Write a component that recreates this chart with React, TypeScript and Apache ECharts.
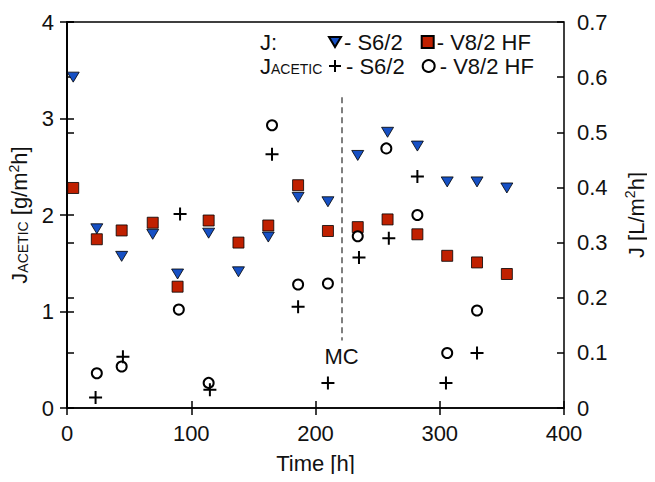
import React, { useEffect, useRef } from "react";
import * as echarts from "echarts";

// ---- data ----
const timeJ = [5, 24, 44, 69, 89, 114, 138, 162, 186, 210, 234, 258, 282, 306, 330, 354];
const jS62 = [0.6, 0.325, 0.275, 0.315, 0.243, 0.317, 0.247, 0.31, 0.382, 0.374, 0.458, 0.5, 0.475, 0.41, 0.41, 0.399];
const jV82 = [0.399, 0.306, 0.322, 0.336, 0.22, 0.34, 0.3, 0.331, 0.404, 0.321, 0.328, 0.342, 0.315, 0.276, 0.264, 0.243];

const timeAcS62 = [23, 45, 91, 115, 165, 186, 210, 235, 259, 282, 305, 330];
const acS62 = [0.11, 0.53, 2.01, 0.19, 2.63, 1.05, 0.26, 1.56, 1.76, 2.4, 0.26, 0.57];

const timeAcV82 = [24, 44, 90, 114, 165, 186, 210, 234, 257, 282, 306, 330];
const acV82 = [0.36, 0.43, 1.02, 0.26, 2.93, 1.28, 1.29, 1.78, 2.69, 2.0, 0.57, 1.01];

const mcTime = 221;
const mcLineTop = 3.22;
const mcLineBottom = 0.7;
const mcLabelY = 0.53;

const xTicks = { min: 0, max: 400, interval: 100 };
const leftTicks = { min: 0, max: 4, interval: 1 };
const rightTicks = { min: 0, max: 0.7, interval: 0.1 };

const seriesNames = ["J S6/2", "J V8/2 HF", "JACETIC S6/2", "JACETIC V8/2 HF"];
const legendLabels: Record<string, string> = {
  "J S6/2": "- S6/2",
  "J V8/2 HF": "- V8/2 HF",
  "JACETIC S6/2": "- S6/2",
  "JACETIC V8/2 HF": "- V8/2 HF",
};

const zip = (xs: number[], ys: number[]) => xs.map((x, i) => [x, ys[i]]);

const FONT = "Liberation Sans, Arial, Helvetica, sans-serif";
const BLUE = "#1650c4";
const RED = "#c02000";
const TRI = "path://M0,0 L12,0 L6,10 Z";
const PLUS = "path://M0,6 L12,6 M6,0 L6,12";

export default function App() {
  const ref = useRef<HTMLDivElement>(null);
  useEffect(() => {
    if (!ref.current) return;
    const chart = echarts.init(ref.current, undefined, { renderer: "svg" });
    const axisLine = { show: true, lineStyle: { color: "#000", width: 1.5 } };
    const label = { fontSize: 22, color: "#111", fontFamily: FONT };
    const tickOut = { show: true, inside: false, length: 7, lineStyle: { color: "#000", width: 1.5 } };
    const tickIn = { show: true, inside: true, length: 7, lineStyle: { color: "#000", width: 1.5 } };
    const richName = {
      a: { fontSize: 22, fontFamily: FONT, color: "#111", verticalAlign: "bottom", lineHeight: 24 },
      b: { fontSize: 14, fontFamily: FONT, color: "#111", verticalAlign: "bottom", lineHeight: 24, padding: [0, 0, 1, 0] },
      s: { fontSize: 14, fontFamily: FONT, color: "#111", verticalAlign: "top", lineHeight: 24 },
    };
    const option: any = {
      animation: false,
      textStyle: { fontFamily: FONT },
      grid: {
        left: 67,
        right: 91,
        top: 22,
        bottom: 74,
        outerBoundsMode: "none",
        containLabel: false,
        show: true,
        borderColor: "#000",
        borderWidth: 1.5,
        backgroundColor: "transparent",
      },
      xAxis: [
        {
          type: "value",
          position: "bottom",
          ...xTicks,
          name: "Time [h]",
          nameLocation: "middle",
          nameGap: 44,
          nameTextStyle: { fontSize: 22, color: "#111", fontFamily: FONT },
          axisLine,
          axisTick: tickOut,
          axisLabel: { ...label, margin: 14 },
          splitLine: { show: false },
        },
        {
          type: "value",
          position: "bottom",
          ...xTicks,
          axisLine: { show: false },
          axisTick: tickIn,
          axisLabel: { show: false },
          splitLine: { show: false },
        },
      ],
      yAxis: [
        {
          type: "value",
          position: "left",
          ...leftTicks,
          name: "{a|J}{b|ACETIC}{a| [g/m}{s|2}{a|h]}",
          nameLocation: "middle",
          nameGap: 30,
          nameTextStyle: { rich: richName },
          axisLine,
          axisTick: tickOut,
          axisLabel: { ...label, margin: 13 },
          splitLine: { show: false },
        },
        {
          type: "value",
          position: "right",
          ...rightTicks,
          name: "{a|J [L/m}{s|2}{a|h]}",
          nameLocation: "middle",
          nameGap: 59,
          nameTextStyle: { rich: richName },
          axisLine,
          axisTick: tickOut,
          axisLabel: { ...label, margin: 13 },
          splitLine: { show: false },
        },
        {
          type: "value",
          position: "left",
          ...leftTicks,
          axisLine: { show: false },
          axisTick: tickIn,
          axisLabel: { show: false },
          splitLine: { show: false },
        },
        {
          type: "value",
          position: "right",
          ...rightTicks,
          axisLine: { show: false },
          axisTick: tickIn,
          axisLabel: { show: false },
          splitLine: { show: false },
        },
      ],
      legend: [
        {
          data: [seriesNames[0], seriesNames[1]],
          left: 328,
          top: 31,
          itemWidth: 12,
          itemHeight: 12,
          itemGap: 18,
          padding: 0,
          formatter: (n: string) => legendLabels[n],
          textStyle: { fontSize: 22, color: "#111", fontFamily: FONT, padding: [0, 0, 0, -2] },
        },
        {
          data: [seriesNames[2], seriesNames[3]],
          left: 328,
          top: 55,
          itemWidth: 12,
          itemHeight: 12,
          itemGap: 17,
          padding: 0,
          formatter: (n: string) => legendLabels[n],
          textStyle: { fontSize: 22, color: "#111", fontFamily: FONT },
        },
      ],
      graphic: [
        {
          type: "text",
          left: 260,
          top: 31,
          style: { text: "J:", fontSize: 22, fill: "#111", fontFamily: FONT },
        },
        {
          type: "text",
          left: 260,
          top: 55,
          style: {
            text: "{a|J}{b|ACETIC}",
            rich: {
              a: { fontSize: 22, fill: "#111", fontFamily: FONT, verticalAlign: "bottom", lineHeight: 24 },
              b: { fontSize: 14, fill: "#111", fontFamily: FONT, verticalAlign: "bottom", lineHeight: 24, padding: [0, 0, 1, 0] },
            },
          },
        },
      ],
      series: [
        {
          name: seriesNames[0],
          type: "scatter",
          xAxisIndex: 0,
          yAxisIndex: 1,
          data: zip(timeJ, jS62),
          symbol: TRI,
          symbolSize: [12, 10],
          itemStyle: { color: BLUE, borderColor: "#000", borderWidth: 0.8, opacity: 1 },
          z: 3,
        },
        {
          name: seriesNames[1],
          type: "scatter",
          xAxisIndex: 0,
          yAxisIndex: 1,
          data: zip(timeJ, jV82),
          symbol: "rect",
          symbolSize: 11,
          itemStyle: { color: RED, borderColor: "#000", borderWidth: 0.8, opacity: 1 },
          z: 3,
        },
        {
          name: seriesNames[2],
          type: "scatter",
          xAxisIndex: 0,
          yAxisIndex: 0,
          data: zip(timeAcS62, acS62),
          symbol: PLUS,
          symbolSize: 13,
          itemStyle: { color: "rgba(0,0,0,0)", borderColor: "#000", borderWidth: 2, opacity: 1 },
          z: 4,
          markLine: {
            silent: true,
            symbol: "none",
            label: { show: false },
            lineStyle: { color: "#555", width: 1.5, type: [6, 4] },
            data: [[{ coord: [mcTime, mcLineTop] }, { coord: [mcTime, mcLineBottom] }]],
          },
          markPoint: {
            silent: true,
            symbol: "circle",
            symbolSize: 1,
            itemStyle: { color: "rgba(0,0,0,0)" },
            label: { show: true, position: "inside", formatter: "MC", fontSize: 22, color: "#111", fontFamily: FONT },
            data: [{ coord: [mcTime, mcLabelY] }],
          },
        },
        {
          name: seriesNames[3],
          type: "scatter",
          xAxisIndex: 0,
          yAxisIndex: 0,
          data: zip(timeAcV82, acV82),
          symbol: "circle",
          symbolSize: 10,
          itemStyle: { color: "#fff", borderColor: "#000", borderWidth: 2, opacity: 1 },
          z: 3,
        },
      ],
    };
    chart.setOption(option);
    return () => chart.dispose();
  }, []);
  return <div ref={ref} style={{ width: 655, height: 482, margin: -8 }} />;
}
